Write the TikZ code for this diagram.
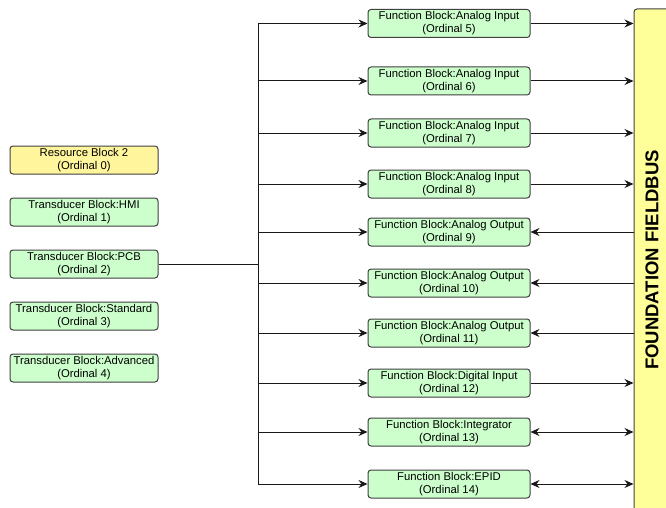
\documentclass[tikz,border=0pt]{standalone}
\usepackage{fontspec}
\setmainfont{Liberation Sans}
\usetikzlibrary{arrows.meta}
\definecolor{boxgreen}{HTML}{CCFFCC}
\definecolor{boxyellow}{HTML}{FFF59D}
\definecolor{busyellow}{HTML}{FFFF99}
\definecolor{edge}{HTML}{404040}
\begin{document}
\begin{tikzpicture}[x=1pt,y=-1pt,
  blk/.style={draw=edge, line width=1pt, fill=boxgreen, rounded corners=3pt,
    minimum height=28pt, inner sep=0pt, align=center,
    font=\fontsize{11.3}{13}\selectfont},
  lblk/.style={blk, minimum width=148pt},
  rblk/.style={blk, minimum width=162pt},
  conn/.style={draw=black!90, line width=1pt},
  tip/.style={-{Stealth[length=9pt,width=8pt,inset=3pt]}},
  rtip/.style={{Stealth[length=9pt,width=8pt,inset=3pt]}-},
  btip/.style={{Stealth[length=9pt,width=8pt,inset=3pt]}-{Stealth[length=9pt,width=8pt,inset=3pt]}}]
\useasboundingbox (0,0) rectangle (666,508);
\fill[white] (0,0) rectangle (666,508);
% left column
\node[lblk, fill=boxyellow] (rb) at (84,160) {Resource Block 2\\(Ordinal 0)};
\node[lblk] (t1) at (84,212) {Transducer Block:HMI\\(Ordinal 1)};
\node[lblk] (t2) at (84,264) {Transducer Block:PCB\\(Ordinal 2)};
\node[lblk] (t3) at (84,316) {Transducer Block:Standard\\(Ordinal 3)};
\node[lblk] (t4) at (84,368) {Transducer Block:Advanced\\(Ordinal 4)};
% right column
\node[rblk] (f5) at (449,23.5) {Function Block:Analog Input\\(Ordinal 5)};
\node[rblk] (f6) at (449,81) {Function Block:Analog Input\\(Ordinal 6)};
\node[rblk] (f7) at (449,133) {Function Block:Analog Input\\(Ordinal 7)};
\node[rblk] (f8) at (449,184) {Function Block:Analog Input\\(Ordinal 8)};
\node[rblk] (f9) at (449,232) {Function Block:Analog Output\\(Ordinal 9)};
\node[rblk] (f10) at (449,283) {Function Block:Analog Output\\(Ordinal 10)};
\node[rblk] (f11) at (449,333) {Function Block:Analog Output\\(Ordinal 11)};
\node[rblk] (f12) at (449,383) {Function Block:Digital Input\\(Ordinal 12)};
\node[rblk] (f13) at (449,432) {Function Block:Integrator\\(Ordinal 13)};
\node[rblk] (f14) at (449,484) {Function Block:EPID\\(Ordinal 14)};
% fieldbus
\node[draw=edge, line width=1pt, fill=busyellow, rounded corners=3pt,
  minimum width=46pt, minimum height=511pt, inner sep=0pt] (fb) at (657,264.5) {};
\node[rotate=90, font=\fontsize{18.5}{20}\selectfont\bfseries] (fbt) at (652,260) {FOUNDATION FIELDBUS};
% bus
\coordinate (j) at (258,264);
\draw[conn] (t2.east) -- (j);
\foreach \n in {f5,f6,f7,f8,f9,f10,f11,f12,f13,f14}{
  \draw[conn, tip] (j) |- (\n.west);
}
% fieldbus links
\foreach \n in {f5,f6,f7,f8,f12}{
  \draw[conn, tip] (\n.east) -- (\n.east -| fb.west);
}
\foreach \n in {f9,f10,f11}{
  \draw[conn, rtip] (\n.east) -- (\n.east -| fb.west);
}
\foreach \n in {f13,f14}{
  \draw[conn, btip] (\n.east) -- (\n.east -| fb.west);
}
\end{tikzpicture}
\end{document}
